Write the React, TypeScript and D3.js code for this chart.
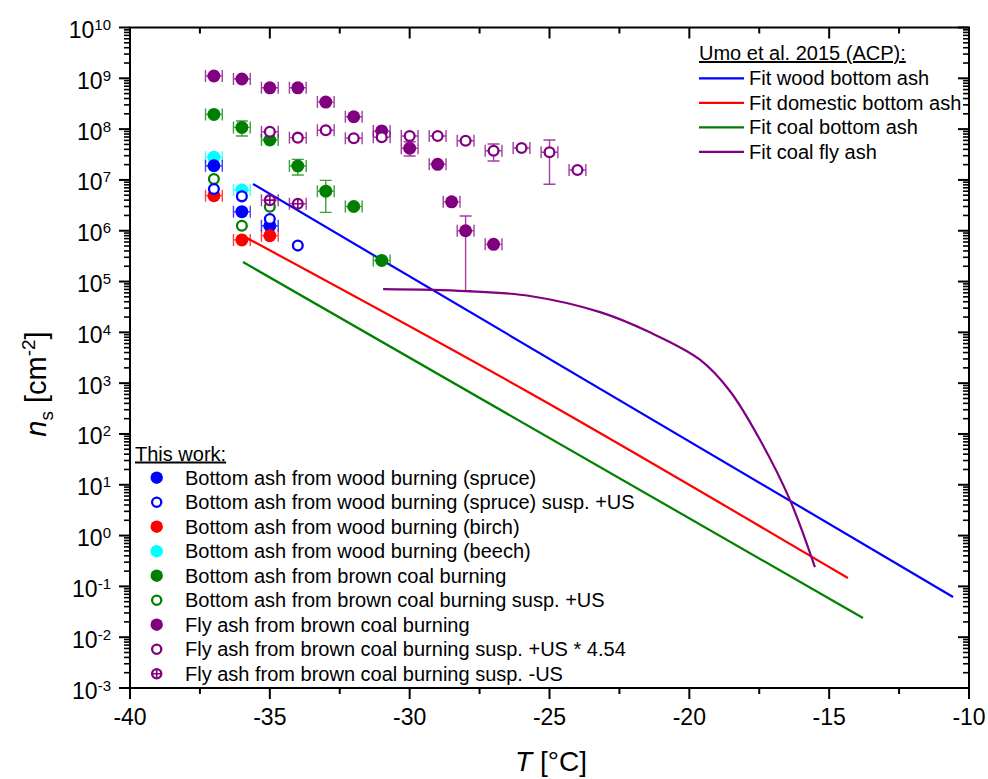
import * as d3 from 'd3';

// [T in °C, n_s in cm^-2]
type Pt = [number, number];
// [T, lower, upper]
type YErr = [number, number, number];

const xTicksMajor = [-40, -35, -30, -25, -20, -15, -10];
const xTicksMinor = [-37.5, -32.5, -27.5, -22.5, -17.5, -12.5];
const yExponents = [-3, -2, -1, 0, 1, 2, 3, 4, 5, 6, 7, 8, 9, 10];

const spruce: Pt[] = [[-37, 1.9e7], [-36, 2.37e6], [-35, 1.25e6]];
const spruceUS: Pt[] = [[-37, 6.6e6], [-36, 4.75e6], [-35, 1.7e6], [-34, 5.1e5]];
const birch: Pt[] = [[-37, 4.9e6], [-36, 6.6e5], [-35, 8.0e5]];
const beech: Pt[] = [[-37, 2.8e7], [-36, 6.3e6]];
const coalBottom: Pt[] = [[-37, 1.95e8], [-36, 1.08e8], [-35, 6.1e7], [-34, 1.88e7], [-33, 6.0e6], [-32, 3.0e6], [-31, 2.6e5]];
const coalBottomUS: Pt[] = [[-37, 1.04e7], [-36, 1.25e6], [-35, 2.97e6]];
const flyAsh: Pt[] = [[-37, 1.11e9], [-36, 9.7e8], [-35, 6.5e8], [-34, 6.5e8], [-33, 3.4e8], [-32, 1.75e8], [-31, 9.2e7], [-30, 4.2e7], [-29, 2.03e7], [-28.5, 3.7e6], [-28, 1.0e6], [-27, 5.4e5]];
const flyAshUS: Pt[] = [[-35, 8.9e7], [-34, 6.8e7], [-33, 9.5e7], [-32, 6.6e7], [-31, 6.9e7], [-30, 7.3e7], [-29, 7.3e7], [-28, 5.9e7], [-27, 3.76e7], [-26, 4.25e7], [-25, 3.5e7], [-24, 1.57e7]];
const flyAshNoUS: Pt[] = [[-35, 4.0e6], [-34, 3.4e6]];

const coalBottomErr: YErr[] = [[-36, 7.3e7, 1.44e8], [-34, 1.25e7, 2.54e7], [-33, 2.3e6, 9.8e6]];
const flyAshErr: YErr[] = [[-30, 2.95e7, 5.65e7], [-28, 6.6e4, 1.95e6]];
const flyAshUSErr: YErr[] = [[-27, 2.36e7, 5.1e7], [-25, 8.2e6, 6.1e7]];
const tempErr = 0.3;

// Umo et al. 2015 fits
const fitWood: Pt[] = [[-35.6, 8.3e6], [-10.57, 0.062]];
const fitDomestic: Pt[] = [[-35.82, 7.2e5], [-25.7, 640], [-14.33, 0.146]];
const fitCoal: Pt[] = [[-35.96, 2.42e5], [-13.79, 0.0238]];
const fitFly: Pt[] = [[-30.95, 7.1e4], [-27.99, 6.5e4], [-25.7, 5.2e4], [-23.19, 2.5e4], [-21.41, 1.0e4], [-19.62, 2900], [-18.55, 700], [-17.47, 76], [-16.4, 5.0], [-15.51, 0.24]];

const umoLabels = ['Fit wood bottom ash', 'Fit domestic bottom ash', 'Fit coal bottom ash', 'Fit coal fly ash'];
const workLabels = [
  'Bottom ash from wood burning (spruce)',
  'Bottom ash from wood burning (spruce) susp. +US',
  'Bottom ash from wood burning (birch)',
  'Bottom ash from wood burning (beech)',
  'Bottom ash from brown coal burning',
  'Bottom ash from brown coal burning susp. +US',
  'Fly ash from brown coal burning',
  'Fly ash from brown coal burning susp. +US * 4.54',
  'Fly ash from brown coal burning susp. -US',
];

const BLUE = '#0000ff', RED = '#ff0000', CYAN = '#00ffff', GREEN = '#008000', PURPLE = '#800080';
const FONT = '"Liberation Sans", Arial, Helvetica, sans-serif';

type Kind = 'filled' | 'open' | 'cross';
interface Series { data: Pt[]; color: string; kind: Kind; xerr: boolean; yerr?: YErr[] }

// drawing order
const series: Series[] = [
  { data: beech, color: CYAN, kind: 'filled', xerr: true },
  { data: spruce, color: BLUE, kind: 'filled', xerr: true },
  { data: birch, color: RED, kind: 'filled', xerr: true },
  { data: coalBottom, color: GREEN, kind: 'filled', xerr: true, yerr: coalBottomErr },
  { data: coalBottomUS, color: GREEN, kind: 'open', xerr: false },
  { data: spruceUS, color: BLUE, kind: 'open', xerr: false },
  { data: flyAsh, color: PURPLE, kind: 'filled', xerr: true, yerr: flyAshErr },
  { data: flyAshUS, color: PURPLE, kind: 'open', xerr: true, yerr: flyAshUSErr },
  { data: flyAshNoUS, color: PURPLE, kind: 'cross', xerr: true },
];

const legendMarks: { color: string; kind: Kind }[] = [
  { color: BLUE, kind: 'filled' }, { color: BLUE, kind: 'open' }, { color: RED, kind: 'filled' },
  { color: CYAN, kind: 'filled' }, { color: GREEN, kind: 'filled' }, { color: GREEN, kind: 'open' },
  { color: PURPLE, kind: 'filled' }, { color: PURPLE, kind: 'open' }, { color: PURPLE, kind: 'cross' },
];
const fitColors = [BLUE, RED, GREEN, PURPLE];

function Marker({ x, y, color, kind, r = 6.5 }: { x: number; y: number; color: string; kind: Kind; r?: number }) {
  if (kind === 'filled') return <circle cx={x} cy={y} r={r} fill={color} />;
  const ro = r - 1.6;
  return (
    <g>
      <circle cx={x} cy={y} r={ro} fill="#fff" stroke={color} strokeWidth={2.3} />
      {kind === 'cross' && (
        <path d={`M${x - ro},${y}H${x + ro}M${x},${y - ro}V${y + ro}`} stroke={color} strokeWidth={1.6} />
      )}
    </g>
  );
}

export default function App() {
  const left = 130, right = 969, top = 27.5, bottom = 688;
  const x = d3.scaleLinear().domain([-40, -10]).range([left, right]);
  const y = d3.scaleLog().domain([1e-3, 1e10]).range([bottom, top]);

  const yMinor: number[] = [];
  for (let e = -3; e < 10; e++) for (let k = 2; k <= 9; k++) yMinor.push(k * Math.pow(10, e));

  const line = d3.line<Pt>().x(d => x(d[0])).y(d => y(d[1]));
  const smooth = d3.line<Pt>().x(d => x(d[0])).y(d => y(d[1])).curve(d3.curveCatmullRom.alpha(0.5));
  const fits: Pt[][] = [fitWood, fitDomestic, fitCoal, fitFly];

  const cap = 6;

  return (
    <svg width={988} height={779} style={{ position: 'absolute', left: 0, top: 0, background: '#fff' }} fontFamily={FONT}>
      <rect width={988} height={779} fill="#fff" />

      {/* fit lines */}
      {fits.map((f, i) => (
        <path key={'fit' + i} d={(i === 1 || i === 3 ? smooth(f) : line(f)) || ''} fill="none" stroke={fitColors[i]} strokeWidth={2.2} />
      ))}

      {/* data with error bars */}
      {series.map((s, si) => (
        <g key={'s' + si}>
          {s.xerr && s.data.map((d, i) => {
            const cy = y(d[1]);
            const x0 = x(d[0] - tempErr), x1 = x(d[0] + tempErr);
            return (
              <path key={'xe' + i} d={`M${x0},${cy}H${x1}M${x0},${cy - cap}V${cy + cap}M${x1},${cy - cap}V${cy + cap}`}
                stroke={s.color} strokeOpacity={0.75} strokeWidth={1.4} fill="none" />
            );
          })}
          {s.yerr && s.yerr.map((e, i) => {
            const cx = x(e[0]);
            const y0 = y(e[1]), y1 = y(e[2]);
            return (
              <path key={'ye' + i} d={`M${cx},${y0}V${y1}M${cx - cap},${y0}H${cx + cap}M${cx - cap},${y1}H${cx + cap}`}
                stroke={s.color} strokeOpacity={0.75} strokeWidth={1.4} fill="none" />
            );
          })}
          {s.data.map((d, i) => (
            <Marker key={'m' + i} x={x(d[0])} y={y(d[1])} color={s.color} kind={s.kind} />
          ))}
        </g>
      ))}

      {/* frame */}
      <rect x={left} y={top} width={right - left} height={bottom - top} fill="none" stroke="#000" strokeWidth={2} />

      {/* y ticks */}
      {yExponents.map(e => (
        <g key={'yt' + e}>
          <line x1={left - 11} x2={left} y1={y(Math.pow(10, e))} y2={y(Math.pow(10, e))} stroke="#000" strokeWidth={2} />
          <line x1={right - 11} x2={right} y1={y(Math.pow(10, e))} y2={y(Math.pow(10, e))} stroke="#000" strokeWidth={2} />
          <text x={111} y={y(Math.pow(10, e)) + 10.5} textAnchor="end" fontSize={23}>
            10<tspan dy={-8} fontSize={15}>{e}</tspan>
          </text>
        </g>
      ))}
      {yMinor.map((v, i) => (
        <g key={'ym' + i}>
          <line x1={left - 6} x2={left} y1={y(v)} y2={y(v)} stroke="#000" strokeWidth={1.6} />
          <line x1={right - 6} x2={right} y1={y(v)} y2={y(v)} stroke="#000" strokeWidth={1.6} />
        </g>
      ))}

      {/* x ticks */}
      {xTicksMajor.map(t => (
        <g key={'xt' + t}>
          <line x1={x(t)} x2={x(t)} y1={bottom} y2={bottom + 11} stroke="#000" strokeWidth={2} />
          <line x1={x(t)} x2={x(t)} y1={top} y2={top + 11} stroke="#000" strokeWidth={2} />
          <text x={x(t)} y={725} textAnchor="middle" fontSize={23}>{t}</text>
        </g>
      ))}
      {xTicksMinor.map(t => (
        <g key={'xm' + t}>
          <line x1={x(t)} x2={x(t)} y1={bottom} y2={bottom + 6} stroke="#000" strokeWidth={2} />
          <line x1={x(t)} x2={x(t)} y1={top} y2={top + 6} stroke="#000" strokeWidth={2} />
        </g>
      ))}

      {/* axis titles */}
      <text x={551} y={771} textAnchor="middle" fontSize={28}>
        <tspan fontStyle="italic">T</tspan> [°C]
      </text>
      <text transform="translate(46,384) rotate(-90)" textAnchor="middle" fontSize={29}>
        <tspan fontStyle="italic">n</tspan>
        <tspan dy={7} fontSize={19}>s</tspan>
        <tspan dy={-7}> [cm</tspan>
        <tspan dy={-11} fontSize={19}>-2</tspan>
        <tspan dy={11}>]</tspan>
      </text>

      {/* Umo legend */}
      <text x={699} y={60} fontSize={20} textDecoration="underline">Umo et al. 2015 (ACP):</text>
      {umoLabels.map((l, i) => {
        const cy = 78.3 + i * 24.5;
        return (
          <g key={'ul' + i}>
            <line x1={699} x2={744} y1={cy} y2={cy} stroke={fitColors[i]} strokeWidth={2.2} />
            <text x={749} y={cy + 7} fontSize={20}>{l}</text>
          </g>
        );
      })}

      {/* this work legend */}
      <text x={135} y={460.5} fontSize={20} textDecoration="underline">This work:</text>
      {workLabels.map((l, i) => {
        const cy = 477.7 + i * 24.5;
        return (
          <g key={'wl' + i}>
            <Marker x={156.7} y={cy} color={legendMarks[i].color} kind={legendMarks[i].kind} r={6.2} />
            <text x={185} y={cy + 7} fontSize={20}>{l}</text>
          </g>
        );
      })}
    </svg>
  );
}
